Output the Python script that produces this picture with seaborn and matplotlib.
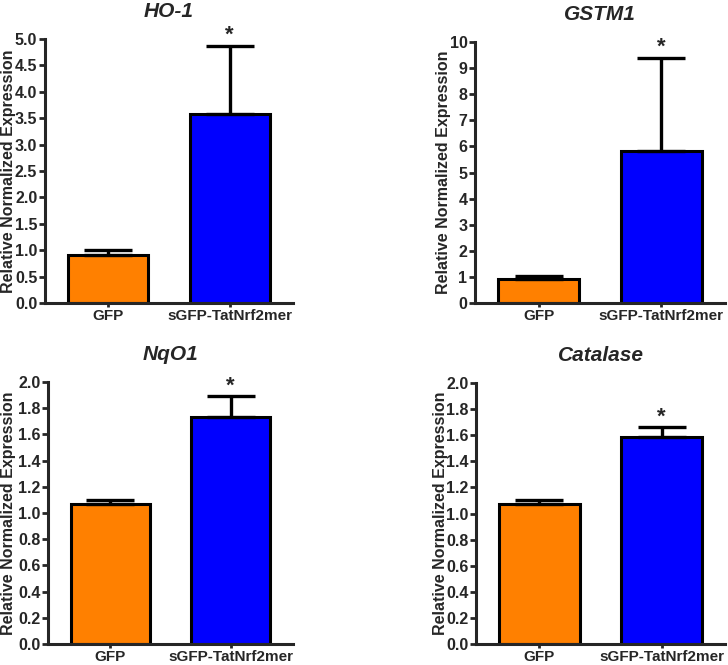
import matplotlib
matplotlib.use("Agg")
import matplotlib.pyplot as plt
import pandas as pd
import seaborn as sns

# groups and per-gene values
groups = ["GFP", "sGFP-TatNrf2mer"]
bar_colors = ["#FF8000", "#0000FF"]

ho1_mean = [0.90, 3.57]
ho1_top = [1.00, 4.87]

gstm1_mean = [0.93, 5.83]
gstm1_top = [1.02, 9.40]

nqo1_mean = [1.07, 1.73]
nqo1_top = [1.10, 1.89]

catalase_mean = [1.07, 1.59]
catalase_top = [1.10, 1.66]

sns.set_style("ticks")
plt.rcParams["font.family"] = ["Liberation Sans", "DejaVu Sans"]
plt.rcParams["font.weight"] = "bold"

fig = plt.figure(figsize=(7.28, 6.65), dpi=100)

# title, means, error tops, axes rect, ymax, tick step, tick format, ylabel right edge (px)
panels = [
    ("HO-1", ho1_mean, ho1_top, [0.0618, 0.5444, 0.3407, 0.3970], 5.0, 0.5, "%.1f", 16),
    ("GSTM1", gstm1_mean, gstm1_top, [0.6525, 0.5444, 0.3434, 0.3924], 10, 1, "%d", 451),
    ("NqO1", nqo1_mean, nqo1_top, [0.0659, 0.0316, 0.3366, 0.3940], 2.0, 0.2, "%.1f", 16),
    ("Catalase", catalase_mean, catalase_top, [0.6538, 0.0316, 0.3421, 0.3924], 2.0, 0.2, "%.1f", 448),
]

for title, mean, top, rect, ymax, step, fmt, label_px in panels:
    ax = fig.add_axes(rect)
    df = pd.DataFrame({"group": groups, "mean": mean, "top": top})
    sns.barplot(data=df, x="group", y="mean", hue="group", palette=bar_colors,
                saturation=1, edgecolor="black", linewidth=2.2, width=0.66,
                errorbar=None, legend=False, ax=ax)
    upper = df["top"] - df["mean"]
    ax.errorbar(x=range(len(df)), y=df["mean"], yerr=[[0] * len(df), upper],
                fmt="none", ecolor="black", elinewidth=2.4, capsize=17,
                capthick=2.4, zorder=1)
    ax.annotate("*", xy=(1, df["top"][1]), xytext=(0, 0), textcoords="offset points",
                ha="center", va="bottom", fontsize=16, fontweight="bold")

    ax.set_xlim(-0.52, 1.52)
    ax.set_ylim(0, ymax)
    ticks = [i * step for i in range(int(round(ymax / step)) + 1)]
    ax.set_yticks(ticks)
    ax.set_yticklabels([fmt % t for t in ticks])
    ax.set_xlabel("")
    ax.set_ylabel("Relative Normalized Expression", fontsize=11.5, fontweight="bold")
    ax.yaxis.set_label_coords((label_px - rect[0] * 728) / (rect[2] * 728), 0.5)
    ax.set_title(title, fontsize=15, fontweight="bold", style="italic", pad=16)
    ax.tick_params(axis="both", labelsize=11.5, width=2, length=4, pad=1.5)
    ax.tick_params(axis="x", length=3, labelsize=11)
    for lbl in ax.get_xticklabels() + ax.get_yticklabels():
        lbl.set_fontweight("bold")
    for s in ["left", "bottom"]:
        ax.spines[s].set_linewidth(2.2)
    sns.despine(ax=ax)

fig.savefig("out.png", dpi=100)
